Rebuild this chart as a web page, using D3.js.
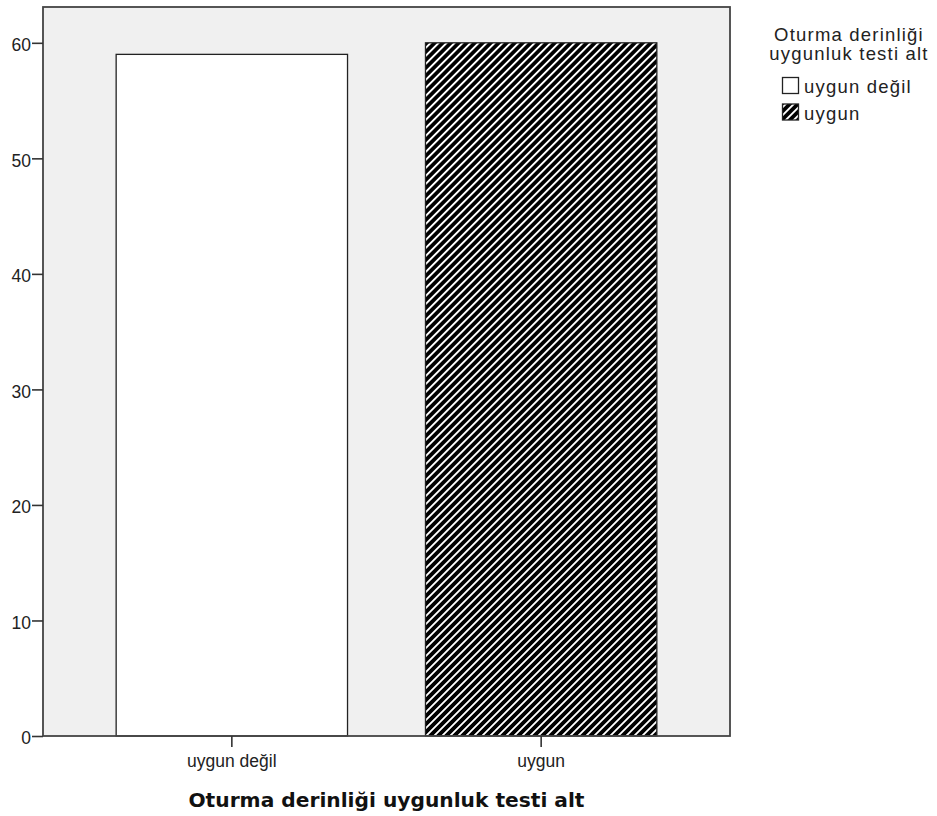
<!DOCTYPE html>
<html><head><meta charset="utf-8">
<script src="https://cdn.jsdelivr.net/npm/d3@7"></script>
<style>body{margin:0;background:#fff;} svg{display:block;}</style>
</head><body>
<svg id="chart" width="937" height="816"></svg>
<script>
const categories = ["uygun değil", "uygun"];
const values = [59, 60];
const yTicks = [0, 10, 20, 30, 40, 50, 60];
const legendTitle = ["Oturma derinliği", "uygunluk testi alt"];
const xTitle = "Oturma derinliği uygunluk testi alt";

const svg = d3.select("#chart");
const font = "'Liberation Sans', Arial, sans-serif";
const boldFont = "'DejaVu Sans', Verdana, sans-serif";
const L = 43, R = 730, T = 7, B = 736;

const defs = svg.append("defs");
const pat = defs.append("pattern").attr("id", "hatch").attr("patternUnits", "userSpaceOnUse")
  .attr("width", 5.66).attr("height", 5.66).attr("patternTransform", "rotate(45)");
pat.append("rect").attr("width", 5.66).attr("height", 5.66).attr("fill", "#000");
pat.append("rect").attr("x", 0).attr("width", 1.9).attr("height", 5.66).attr("fill", "#fff");

const x = d3.scaleBand().domain(categories).range([L, R]).paddingInner(0.252).paddingOuter(0.2365);
const y = d3.scaleLinear().domain([0, 63.1]).range([B, T]);

svg.append("rect").attr("x", L).attr("y", T).attr("width", R - L).attr("height", B - T)
  .attr("fill", "#f0f0f0");

svg.selectAll(".bar").data(categories).enter().append("rect")
  .attr("x", d => x(d)).attr("y", (d, i) => y(values[i]))
  .attr("width", x.bandwidth()).attr("height", (d, i) => B - y(values[i]))
  .attr("fill", (d, i) => i === 0 ? "#fff" : "url(#hatch)")
  .attr("stroke", "#222").attr("stroke-width", 1.3);

svg.append("rect").attr("x", L).attr("y", T).attr("width", R - L).attr("height", B - T)
  .attr("fill", "none").attr("stroke", "#444").attr("stroke-width", 1.8);

const ya = svg.append("g").attr("transform", `translate(${L},0)`)
  .call(d3.axisLeft(y).tickValues(yTicks).tickSize(11).tickPadding(1).tickFormat(d3.format("d")));
ya.select(".domain").remove();
ya.selectAll("line").attr("stroke", "#333").attr("stroke-width", 1.6);
ya.selectAll("text").attr("font-family", font).attr("font-size", 17.5).attr("fill", "#222")
  .attr("dy", "0.45em");

const xa = svg.append("g").attr("transform", `translate(0,${B})`)
  .call(d3.axisBottom(x).tickSize(11).tickPadding(0));
xa.select(".domain").remove();
xa.selectAll("line").attr("stroke", "#333").attr("stroke-width", 1.6);
xa.selectAll("text").attr("font-family", font).attr("font-size", 17.5).attr("fill", "#222")
  .attr("y", 31).attr("dy", 0);

svg.append("text").attr("x", 386.5).attr("y", 807).attr("text-anchor", "middle")
  .attr("font-family", boldFont).attr("font-size", 20.2).attr("font-weight", "bold").attr("fill", "#111")
  .text(xTitle);

const lg = svg.append("g");
legendTitle.forEach((t, i) => {
  lg.append("text").attr("x", 849).attr("y", 41 + i * 19).attr("text-anchor", "middle")
    .attr("font-family", font).attr("font-size", 18.5).attr("letter-spacing", 1.2)
    .attr("fill", "#222").text(t);
});
categories.forEach((c, i) => {
  const yy = 77.5 + i * 26.5;
  lg.append("rect").attr("x", 782.5).attr("y", yy).attr("width", 16).attr("height", 16)
    .attr("fill", i === 0 ? "#fff" : "url(#hatch)").attr("stroke", "#222").attr("stroke-width", 1.3);
  lg.append("text").attr("x", 804).attr("y", yy + 15.5).attr("font-family", font)
    .attr("font-size", 18.5).attr("letter-spacing", 1.2).attr("fill", "#222").text(c);
});
</script>
</body></html>
